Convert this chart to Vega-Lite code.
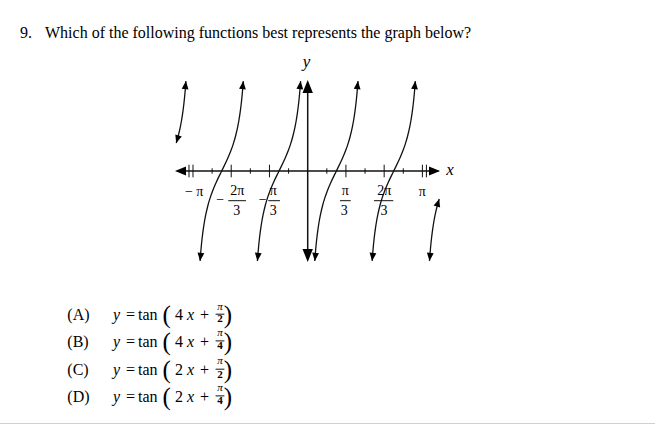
{
  "$schema": "https://vega.github.io/schema/vega-lite/v6.json",
  "width": 655,
  "height": 425,
  "autosize": "none",
  "padding": 0,
  "background": "white",
  "config": {"view": {"stroke": null}},
  "datasets": {
    "curves": [
      {"b": 0, "x": -1.1464, "y": 0.7618}, {"b": 0, "x": -1.13, "y": 0.9391}, {"b": 0, "x": -1.11, "y": 1.2088}, {"b": 0, "x": -1.10, "y": 1.3764}, {"b": 0, "x": -1.09, "y": 1.5757}, {"b": 0, "x": -1.08, "y": 1.8190}, {"b": 0, "x": -1.07, "y": 2.1251}, {"b": 0, "x": -1.065, "y": 2.3094}, {"b": 0, "x": -1.06166, "y": 2.45},
      {"b": 1, "x": -0.93834, "y": -2.45}, {"b": 1, "x": -0.935, "y": -2.3094}, {"b": 1, "x": -0.93, "y": -2.1251}, {"b": 1, "x": -0.92, "y": -1.8190}, {"b": 1, "x": -0.91, "y": -1.5757}, {"b": 1, "x": -0.90, "y": -1.3764}, {"b": 1, "x": -0.89, "y": -1.2088}, {"b": 1, "x": -0.87, "y": -0.9391}, {"b": 1, "x": -0.85, "y": -0.7265}, {"b": 1, "x": -0.83, "y": -0.5498}, {"b": 1, "x": -0.80, "y": -0.3249}, {"b": 1, "x": -0.75, "y": 0}, {"b": 1, "x": -0.70, "y": 0.3249}, {"b": 1, "x": -0.67, "y": 0.5498}, {"b": 1, "x": -0.65, "y": 0.7265}, {"b": 1, "x": -0.63, "y": 0.9391}, {"b": 1, "x": -0.61, "y": 1.2088}, {"b": 1, "x": -0.60, "y": 1.3764}, {"b": 1, "x": -0.59, "y": 1.5757}, {"b": 1, "x": -0.58, "y": 1.8190}, {"b": 1, "x": -0.57, "y": 2.1251}, {"b": 1, "x": -0.565, "y": 2.3094}, {"b": 1, "x": -0.56166, "y": 2.45},
      {"b": 2, "x": -0.43834, "y": -2.45}, {"b": 2, "x": -0.435, "y": -2.3094}, {"b": 2, "x": -0.43, "y": -2.1251}, {"b": 2, "x": -0.42, "y": -1.8190}, {"b": 2, "x": -0.41, "y": -1.5757}, {"b": 2, "x": -0.40, "y": -1.3764}, {"b": 2, "x": -0.39, "y": -1.2088}, {"b": 2, "x": -0.37, "y": -0.9391}, {"b": 2, "x": -0.35, "y": -0.7265}, {"b": 2, "x": -0.33, "y": -0.5498}, {"b": 2, "x": -0.30, "y": -0.3249}, {"b": 2, "x": -0.25, "y": 0}, {"b": 2, "x": -0.20, "y": 0.3249}, {"b": 2, "x": -0.17, "y": 0.5498}, {"b": 2, "x": -0.15, "y": 0.7265}, {"b": 2, "x": -0.13, "y": 0.9391}, {"b": 2, "x": -0.11, "y": 1.2088}, {"b": 2, "x": -0.10, "y": 1.3764}, {"b": 2, "x": -0.09, "y": 1.5757}, {"b": 2, "x": -0.08, "y": 1.8190}, {"b": 2, "x": -0.07, "y": 2.1251}, {"b": 2, "x": -0.065, "y": 2.3094}, {"b": 2, "x": -0.06166, "y": 2.45},
      {"b": 3, "x": 0.06166, "y": -2.45}, {"b": 3, "x": 0.065, "y": -2.3094}, {"b": 3, "x": 0.07, "y": -2.1251}, {"b": 3, "x": 0.08, "y": -1.8190}, {"b": 3, "x": 0.09, "y": -1.5757}, {"b": 3, "x": 0.10, "y": -1.3764}, {"b": 3, "x": 0.11, "y": -1.2088}, {"b": 3, "x": 0.13, "y": -0.9391}, {"b": 3, "x": 0.15, "y": -0.7265}, {"b": 3, "x": 0.17, "y": -0.5498}, {"b": 3, "x": 0.20, "y": -0.3249}, {"b": 3, "x": 0.25, "y": 0}, {"b": 3, "x": 0.30, "y": 0.3249}, {"b": 3, "x": 0.33, "y": 0.5498}, {"b": 3, "x": 0.35, "y": 0.7265}, {"b": 3, "x": 0.37, "y": 0.9391}, {"b": 3, "x": 0.39, "y": 1.2088}, {"b": 3, "x": 0.40, "y": 1.3764}, {"b": 3, "x": 0.41, "y": 1.5757}, {"b": 3, "x": 0.42, "y": 1.8190}, {"b": 3, "x": 0.43, "y": 2.1251}, {"b": 3, "x": 0.435, "y": 2.3094}, {"b": 3, "x": 0.43834, "y": 2.45},
      {"b": 4, "x": 0.56166, "y": -2.45}, {"b": 4, "x": 0.565, "y": -2.3094}, {"b": 4, "x": 0.57, "y": -2.1251}, {"b": 4, "x": 0.58, "y": -1.8190}, {"b": 4, "x": 0.59, "y": -1.5757}, {"b": 4, "x": 0.60, "y": -1.3764}, {"b": 4, "x": 0.61, "y": -1.2088}, {"b": 4, "x": 0.63, "y": -0.9391}, {"b": 4, "x": 0.65, "y": -0.7265}, {"b": 4, "x": 0.67, "y": -0.5498}, {"b": 4, "x": 0.70, "y": -0.3249}, {"b": 4, "x": 0.75, "y": 0}, {"b": 4, "x": 0.80, "y": 0.3249}, {"b": 4, "x": 0.83, "y": 0.5498}, {"b": 4, "x": 0.85, "y": 0.7265}, {"b": 4, "x": 0.87, "y": 0.9391}, {"b": 4, "x": 0.89, "y": 1.2088}, {"b": 4, "x": 0.90, "y": 1.3764}, {"b": 4, "x": 0.91, "y": 1.5757}, {"b": 4, "x": 0.92, "y": 1.8190}, {"b": 4, "x": 0.93, "y": 2.1251}, {"b": 4, "x": 0.935, "y": 2.3094}, {"b": 4, "x": 0.93834, "y": 2.45},
      {"b": 5, "x": 1.06166, "y": -2.45}, {"b": 5, "x": 1.065, "y": -2.3094}, {"b": 5, "x": 1.07, "y": -2.1251}, {"b": 5, "x": 1.08, "y": -1.8190}, {"b": 5, "x": 1.09, "y": -1.5757}, {"b": 5, "x": 1.10, "y": -1.3764}, {"b": 5, "x": 1.11, "y": -1.2088}, {"b": 5, "x": 1.13, "y": -0.9391}, {"b": 5, "x": 1.1464, "y": -0.7618}
    ],
    "axes": [
      {"x": -1.14, "y": 0, "x2": 1.14, "y2": 0},
      {"x": 0, "y": -2.40, "x2": 0, "y2": 2.40}
    ],
    "thin": [
      {"x": -1.035, "y": -0.1717, "x2": -1.035, "y2": 0.1717},
      {"x": -1.0, "y": -0.1717, "x2": -1.0, "y2": 0.1717},
      {"x": -0.83333, "y": -0.0736, "x2": -0.83333, "y2": 0.0736},
      {"x": -0.66667, "y": -0.1717, "x2": -0.66667, "y2": 0.1717},
      {"x": -0.5, "y": -0.0736, "x2": -0.5, "y2": 0.0736},
      {"x": -0.33333, "y": -0.1717, "x2": -0.33333, "y2": 0.1717},
      {"x": -0.16667, "y": -0.0736, "x2": -0.16667, "y2": 0.0736},
      {"x": 0.16667, "y": -0.0736, "x2": 0.16667, "y2": 0.0736},
      {"x": 0.33333, "y": -0.1717, "x2": 0.33333, "y2": 0.1717},
      {"x": 0.5, "y": -0.0736, "x2": 0.5, "y2": 0.0736},
      {"x": 0.66667, "y": -0.1717, "x2": 0.66667, "y2": 0.1717},
      {"x": 0.83333, "y": -0.0736, "x2": 0.83333, "y2": 0.0736},
      {"x": 1.0, "y": -0.1717, "x2": 1.0, "y2": 0.1717},
      {"x": 1.035, "y": -0.1717, "x2": 1.035, "y2": 0.1717},
      {"x": -0.6923, "y": -0.8093, "x2": -0.5380, "y2": -0.8093},
      {"x": -0.3435, "y": -0.8093, "x2": -0.2415, "y2": -0.8093},
      {"x": 0.2816, "y": -0.8093, "x2": 0.3749, "y2": -0.8093},
      {"x": 0.5780, "y": -0.8093, "x2": 0.7463, "y2": -0.8093},
      {"x": -0.8030, "y": -3.9019, "x2": -0.7262, "y2": -3.9019},
      {"x": -0.8030, "y": -4.6294, "x2": -0.7262, "y2": -4.6294},
      {"x": -0.8030, "y": -5.4005, "x2": -0.7262, "y2": -5.4005},
      {"x": -0.8030, "y": -6.1281, "x2": -0.7262, "y2": -6.1281}
    ],
    "edge": [
      {"x": -2.68265, "y": -6.8801, "x2": 3.0279, "y2": -6.8801}
    ],
    "yArrowUp": [{"x": 0, "y": 2.4796}],
    "yArrowDown": [{"x": 0, "y": -2.4796}],
    "xArrowRight": [{"x": 1.1534, "y": 0}],
    "xArrowLeft": [{"x": -1.1569, "y": 0}],
    "tipsTop": [
      {"x": -1.06166, "y": 2.45}, {"x": -0.56166, "y": 2.45}, {"x": -0.06166, "y": 2.45}, {"x": 0.43834, "y": 2.45}, {"x": 0.93834, "y": 2.45}
    ],
    "tipsBottom": [
      {"x": -0.93834, "y": -2.45}, {"x": -0.43834, "y": -2.45}, {"x": 0.06166, "y": -2.45}, {"x": 0.56166, "y": -2.45}, {"x": 1.06166, "y": -2.45}
    ],
    "tipsPartialTop": [{"x": 1.1464, "y": -0.7618}],
    "tipsPartialBottom": [{"x": -1.1464, "y": 0.7618}],
    "question": [
      {"x": -2.5083, "y": 3.6376, "t": "9."},
      {"x": -2.2903, "y": 3.6376, "t": "Which of the following functions best represents the graph below?"}
    ],
    "varLabels": [
      {"x": -0.0105, "y": 2.8474, "t": "y"},
      {"x": 1.2406, "y": -0.109, "t": "x"}
    ],
    "axisLabels": [
      {"x": -0.9895, "y": -0.5586, "t": "− π"},
      {"x": 0.9991, "y": -0.5586, "t": "π"},
      {"x": -0.6146, "y": -0.545, "t": "2π"},
      {"x": -0.6190, "y": -1.0817, "t": "3"},
      {"x": -0.7620, "y": -0.78, "t": "−"},
      {"x": -0.2999, "y": -0.545, "t": "π"},
      {"x": -0.2999, "y": -1.0817, "t": "3"},
      {"x": -0.3923, "y": -0.78, "t": "−"},
      {"x": 0.3269, "y": -0.545, "t": "π"},
      {"x": 0.3191, "y": -1.0817, "t": "3"},
      {"x": 0.6670, "y": -0.545, "t": "2π"},
      {"x": 0.6652, "y": -1.0817, "t": "3"}
    ],
    "optText": [
      {"x": -2.0959, "y": -3.9237, "t": "(A)"},
      {"x": -2.0959, "y": -4.6512, "t": "(B)"},
      {"x": -2.0959, "y": -5.4223, "t": "(C)"},
      {"x": -2.0959, "y": -6.1499, "t": "(D)"},
      {"x": -1.5841, "y": -3.9237, "t": "="},
      {"x": -1.5841, "y": -4.6512, "t": "="},
      {"x": -1.5841, "y": -5.4223, "t": "="},
      {"x": -1.5841, "y": -6.1499, "t": "="},
      {"x": -1.4795, "y": -3.9237, "t": "tan"},
      {"x": -1.4795, "y": -4.6512, "t": "tan"},
      {"x": -1.4795, "y": -5.4223, "t": "tan"},
      {"x": -1.4795, "y": -6.1499, "t": "tan"},
      {"x": -1.1569, "y": -3.9237, "t": "4"},
      {"x": -1.1569, "y": -4.6512, "t": "4"},
      {"x": -1.1569, "y": -5.4223, "t": "2"},
      {"x": -1.1569, "y": -6.1499, "t": "2"},
      {"x": -0.9390, "y": -3.9237, "t": "+"},
      {"x": -0.9390, "y": -4.6512, "t": "+"},
      {"x": -0.9390, "y": -5.4223, "t": "+"},
      {"x": -0.9390, "y": -6.1499, "t": "+"}
    ],
    "optItalic": [
      {"x": -1.6975, "y": -3.9237, "t": "y"},
      {"x": -1.6975, "y": -4.6512, "t": "y"},
      {"x": -1.6975, "y": -5.4223, "t": "y"},
      {"x": -1.6975, "y": -6.1499, "t": "y"},
      {"x": -1.0523, "y": -3.9237, "t": "x"},
      {"x": -1.0523, "y": -4.6512, "t": "x"},
      {"x": -1.0523, "y": -5.4223, "t": "x"},
      {"x": -1.0523, "y": -6.1499, "t": "x"}
    ],
    "parens": [
      {"x": -1.2293, "y": -3.9237, "t": "("},
      {"x": -1.2293, "y": -4.6512, "t": "("},
      {"x": -1.2293, "y": -5.4223, "t": "("},
      {"x": -1.2293, "y": -6.1499, "t": "("},
      {"x": -0.6966, "y": -3.9237, "t": ")"},
      {"x": -0.6966, "y": -4.6512, "t": ")"},
      {"x": -0.6966, "y": -5.4223, "t": ")"},
      {"x": -0.6966, "y": -6.1499, "t": ")"}
    ],
    "fracPi": [
      {"x": -0.7646, "y": -3.6921, "t": "π"},
      {"x": -0.7646, "y": -4.4196, "t": "π"},
      {"x": -0.7646, "y": -5.1907, "t": "π"},
      {"x": -0.7646, "y": -5.9183, "t": "π"}
    ],
    "fracDen": [
      {"x": -0.7646, "y": -4.0463, "t": "2"},
      {"x": -0.7646, "y": -4.7738, "t": "4"},
      {"x": -0.7646, "y": -5.5450, "t": "2"},
      {"x": -0.7646, "y": -6.2725, "t": "4"}
    ]
  },
  "encoding": {
    "x": {"field": "x", "type": "quantitative", "scale": {"domain": [-2.68265, 3.0279], "nice": false, "zero": false}, "axis": null},
    "y": {"field": "y", "type": "quantitative", "scale": {"domain": [-6.92098, 4.6594], "nice": false, "zero": false}, "axis": null}
  },
  "layer": [
    {"data": {"name": "edge"}, "mark": {"type": "rule", "color": "#d0d0d0", "strokeWidth": 1}, "encoding": {"x2": {"field": "x2"}, "y2": {"field": "y2"}}},
    {"data": {"name": "curves"}, "mark": {"type": "line", "color": "#111111", "strokeWidth": 1.3, "interpolate": "monotone"}, "encoding": {"detail": {"field": "b", "type": "nominal"}}},
    {"data": {"name": "axes"}, "mark": {"type": "rule", "color": "#111111", "strokeWidth": 1.5}, "encoding": {"x2": {"field": "x2"}, "y2": {"field": "y2"}}},
    {"data": {"name": "thin"}, "mark": {"type": "rule", "color": "#111111", "strokeWidth": 1}, "encoding": {"x2": {"field": "x2"}, "y2": {"field": "y2"}}},
    {"data": {"name": "yArrowUp"}, "mark": {"type": "point", "shape": "M0,0L0.8,2L-0.8,2Z", "size": 169, "filled": true, "opacity": 1, "color": "black", "strokeWidth": 0}},
    {"data": {"name": "yArrowDown"}, "mark": {"type": "point", "shape": "M0,0L0.8,-2L-0.8,-2Z", "size": 169, "filled": true, "opacity": 1, "color": "black", "strokeWidth": 0}},
    {"data": {"name": "xArrowRight"}, "mark": {"type": "point", "shape": "M0,0L-2,-0.8L-2,0.8Z", "size": 121, "filled": true, "opacity": 1, "color": "black", "strokeWidth": 0}},
    {"data": {"name": "xArrowLeft"}, "mark": {"type": "point", "shape": "M0,0L2,-0.8L2,0.8Z", "size": 121, "filled": true, "opacity": 1, "color": "black", "strokeWidth": 0}},
    {"data": {"name": "tipsTop"}, "mark": {"type": "point", "shape": "M0,0L0.85,2L-0.85,2Z", "size": 64, "angle": 6, "filled": true, "opacity": 1, "color": "black", "strokeWidth": 0}},
    {"data": {"name": "tipsBottom"}, "mark": {"type": "point", "shape": "M0,0L0.85,-2L-0.85,-2Z", "size": 64, "angle": 6, "filled": true, "opacity": 1, "color": "black", "strokeWidth": 0}},
    {"data": {"name": "tipsPartialTop"}, "mark": {"type": "point", "shape": "M0,0L0.85,2L-0.85,2Z", "size": 64, "angle": 17, "filled": true, "opacity": 1, "color": "black", "strokeWidth": 0}},
    {"data": {"name": "tipsPartialBottom"}, "mark": {"type": "point", "shape": "M0,0L0.85,-2L-0.85,-2Z", "size": 64, "angle": 17, "filled": true, "opacity": 1, "color": "black", "strokeWidth": 0}},
    {"data": {"name": "question"}, "mark": {"type": "text", "font": "Liberation Serif", "fontSize": 16, "align": "left", "baseline": "alphabetic", "color": "black"}, "encoding": {"text": {"field": "t"}}},
    {"data": {"name": "varLabels"}, "mark": {"type": "text", "font": "Liberation Serif", "fontSize": 17, "fontStyle": "italic", "align": "center", "baseline": "alphabetic", "color": "black"}, "encoding": {"text": {"field": "t"}}},
    {"data": {"name": "axisLabels"}, "mark": {"type": "text", "font": "Liberation Serif", "fontSize": 14, "align": "center", "baseline": "middle", "color": "black"}, "encoding": {"text": {"field": "t"}}},
    {"data": {"name": "optText"}, "mark": {"type": "text", "font": "Liberation Serif", "fontSize": 16, "align": "left", "baseline": "middle", "color": "black"}, "encoding": {"text": {"field": "t"}}},
    {"data": {"name": "optItalic"}, "mark": {"type": "text", "font": "Liberation Serif", "fontSize": 16, "fontStyle": "italic", "align": "left", "baseline": "middle", "color": "black"}, "encoding": {"text": {"field": "t"}}},
    {"data": {"name": "parens"}, "mark": {"type": "text", "font": "Liberation Serif", "fontSize": 25, "align": "center", "baseline": "middle", "color": "black"}, "encoding": {"text": {"field": "t"}}},
    {"data": {"name": "fracPi"}, "mark": {"type": "text", "font": "Liberation Serif", "fontSize": 11, "fontStyle": "italic", "align": "center", "baseline": "middle", "color": "black"}, "encoding": {"text": {"field": "t"}}},
    {"data": {"name": "fracDen"}, "mark": {"type": "text", "font": "Liberation Serif", "fontSize": 11, "fontWeight": "bold", "align": "center", "baseline": "middle", "color": "black"}, "encoding": {"text": {"field": "t"}}}
  ]
}
